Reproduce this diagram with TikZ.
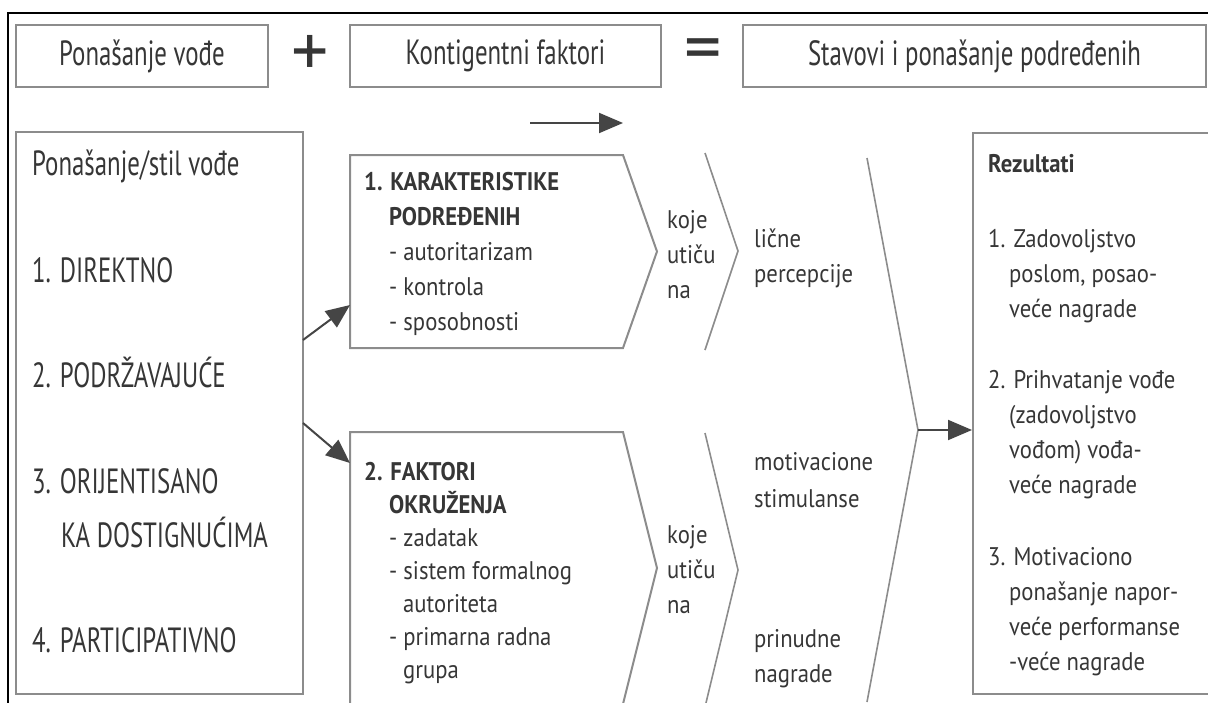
\documentclass[tikz,border=0pt]{standalone}
\usepackage{fontspec}
\setmainfont{PT Sans}[FakeStretch=0.89]
\newfontfamily\bigfam{PT Sans}[FakeStretch=0.71]
\newfontfamily\symfam{PT Sans}
\usetikzlibrary{arrows.meta,positioning}

\definecolor{boxgray}{HTML}{8C8C8C}
\definecolor{ink}{HTML}{363636}
\definecolor{arrowgray}{HTML}{454545}

\begin{document}
\begin{tikzpicture}[
  x=1pt, y=-1pt,
  box/.style={draw=boxgray, line width=2pt, inner sep=0pt},
  txt/.style={text=ink, inner sep=0pt, anchor=base west, align=left},
  bigfont/.style={font=\bigfam\fontsize{35}{35}\selectfont},
  bodyfont/.style={font=\fontsize{25.5}{35}\selectfont},
  opfont/.style={font=\symfam\fontsize{74}{74}\selectfont},
  chev/.style={draw=boxgray, line width=1.6pt},
  flow/.style={-{Triangle[length=24pt,width=20pt]}, draw=arrowgray, line width=2pt}
]
\useasboundingbox (0,0) rectangle (1208,702);
\clip (0,0) rectangle (1208,702);

% outer frame (top and left only)
\draw[black, line width=2pt] (8,710) -- (8,13) -- (1210,13);

% Header row
\node[box, bigfont, text=ink, minimum width=252, minimum height=62] (vodja) at (142,56) {Ponašanje vođe};
\node[opfont, text=ink, inner sep=0pt] (plus) at (310,56) {+};
\node[box, bigfont, text=ink, minimum width=311, minimum height=62] (faktori) at (505.5,56) {Kontigentni faktori};
\node[opfont, text=ink, inner sep=0pt] (jednako) at (703,56) {=};
\node[box, bigfont, text=ink, minimum width=463, minimum height=62] (stavovi) at (974.5,56) {Stavovi i ponašanje podređenih};

\coordinate (smerA) at (530,123);
\coordinate (smerB) at (623,123);
\draw[flow] (smerA) -- (smerB);

% Leader behaviour
\node[box, minimum width=287, minimum height=562] (stil) at (159.5,413) {};
\node[txt, bigfont] (stilnaslov) at (32,175) {Ponašanje/stil vođe};
\node[txt, bigfont] (direktno) at (32,282) {1. DIREKTNO};
\node[txt, bigfont] (podrzavajuce) at (32,387) {2. PODRŽAVAJUĆE};
\node[txt, bigfont] (orijentisano) at (32,493) {3. ORIJENTISANO};
\node[txt, bigfont] (dostignuca) at (61,547) {KA DOSTIGNUĆIMA};
\node[txt, bigfont] (participativno) at (32,652) {4. PARTICIPATIVNO};

% Contingency factors
\coordinate (kar-nw) at (350,155);
\coordinate (kar-ne) at (623,155);
\coordinate (kar-tip) at (657,251.5);
\coordinate (kar-se) at (623,348);
\coordinate (kar-sw) at (350,348);
\draw[chev, line width=2pt] (kar-nw) -- (kar-ne) -- (kar-tip) -- (kar-se) -- (kar-sw) -- cycle;
\node[txt, bodyfont] (karakteristike) at (364,330) {%
  \textbf{1. KARAKTERISTIKE}\\
  \hspace*{25pt}\textbf{PODREĐENIH}\\
  \hspace*{25pt}- autoritarizam\\
  \hspace*{25pt}- kontrola\\
  \hspace*{25pt}- sposobnosti};

\coordinate (okr-sw) at (350,720);
\coordinate (okr-nw) at (350,432);
\coordinate (okr-ne) at (623,432);
\coordinate (okr-tip) at (657,568);
\coordinate (okr-se) at (623,704);
\draw[chev, line width=2pt] (okr-sw) -- (okr-nw) -- (okr-ne) -- (okr-tip) -- (okr-se);
\node[txt, font=\fontsize{25.5}{33}\selectfont] (okruzenje) at (364,678) {%
  \textbf{2. FAKTORI}\\
  \hspace*{25pt}\textbf{OKRUŽENJA}\\
  \hspace*{25pt}- zadatak\\
  \hspace*{25pt}- sistem formalnog\\
  \hspace*{39pt}autoriteta\\
  \hspace*{25pt}- primarna radna\\
  \hspace*{39pt}grupa};

\coordinate (stil-a) at (303,340);
\coordinate (kar-in) at (350,305);
\coordinate (stil-b) at (303,423);
\coordinate (okr-in) at (350,463);
\draw[flow] (stil-a) -- (kar-in);
\draw[flow] (stil-b) -- (okr-in);

% koje uticu na
\node[txt, bodyfont] (uticuA) at (667,298) {koje\\utiču\\na};
\node[txt, bodyfont] (uticuB) at (667,613) {koje\\utiču\\na};

\coordinate (vA-top) at (705,153);
\coordinate (vA-tip) at (738,251);
\coordinate (vA-bot) at (705,350);
\draw[chev] (vA-top) -- (vA-tip) -- (vA-bot);
\coordinate (vB-top) at (705,433);
\coordinate (vB-tip) at (738,570);
\coordinate (vB-bot) at (705,707);
\draw[chev] (vB-top) -- (vB-tip) -- (vB-bot);

\node[txt, bodyfont] (percepcije) at (754,282) {lične\\percepcije};
\node[txt, font=\fontsize{25.5}{37}\selectfont] (stimulanse) at (754,507) {motivacione\\stimulanse};
\node[txt, bodyfont] (prinudne) at (754,682) {prinudne\\nagrade};

\coordinate (vC-top) at (867,158);
\coordinate (vC-tip) at (918,430);
\coordinate (vC-bot) at (867,702);
\draw[chev] (vC-top) -- (vC-tip) -- (vC-bot);

% Results
\node[box, minimum width=240, minimum height=561, anchor=north west] (rez) at (972,132) {};
\coordinate (rez-in) at (972,430);
\draw[flow] (vC-tip) -- (rez-in);

\node[txt, bodyfont] (rezultati) at (988,172) {\textbf{Rezultati}};
\node[txt, bodyfont] (zadovoljstvo) at (988,317) {%
  1. Zadovoljstvo\\
  \hspace*{21pt}poslom, posao-\\
  \hspace*{21pt}veće nagrade};
\node[txt, bodyfont] (prihvatanje) at (988,493) {%
  2. Prihvatanje vođe\\
  \hspace*{21pt}(zadovoljstvo\\
  \hspace*{21pt}vođom) vođa-\\
  \hspace*{21pt}veće nagrade};
\node[txt, bodyfont] (motivaciono) at (988,670) {%
  3. Motivaciono\\
  \hspace*{21pt}ponašanje napor-\\
  \hspace*{21pt}veće performanse\\
  \hspace*{21pt}-veće nagrade};

\end{tikzpicture}
\end{document}
